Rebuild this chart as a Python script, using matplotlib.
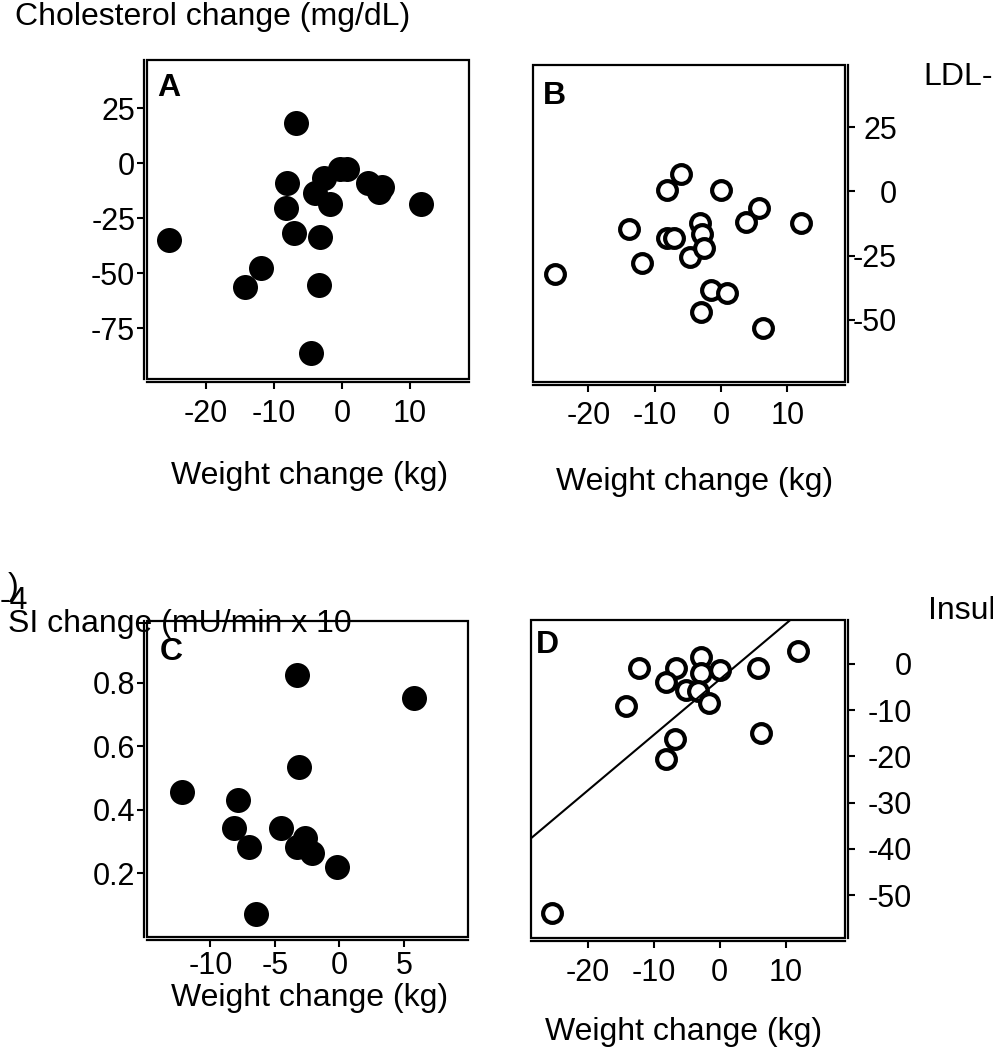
import numpy as np
import matplotlib
matplotlib.use("Agg")
import matplotlib.pyplot as plt
from matplotlib.patches import Rectangle
from matplotlib.transforms import offset_copy

plt.rcParams['font.family'] = ['Liberation Sans', 'DejaVu Sans']
plt.rcParams['axes.unicode_minus'] = False

# ---- data ----
# A: weight change vs cholesterol change
a_wt = [-25.4, -6.7, -8.0, -8.2, -7.1, -11.9, -14.2, -3.3, -4.6, -3.2,
        -1.8, -3.9, -2.6, -0.3, 0.7, 3.8, 5.9, 5.5, 11.6]
a_chol = [-34.9, 18.2, -8.8, -20.5, -31.8, -47.4, -56.1, -55.3, -86.4, -33.5,
          -18.5, -13.4, -6.8, -2.7, -2.7, -8.8, -10.6, -12.9, -18.5]

# B: weight change vs LDL change
b_wt = [-25.0, -13.8, -11.9, -8.1, -6.1, -8.1, -7.1, -4.6, -3.1, -2.8,
        -2.6, 0.0, -1.5, 0.9, -3.0, 5.8, 3.8, 12.0, 6.3]
b_ldl = [-32.3, -14.6, -28.0, 0.6, 6.8, -18.0, -18.0, -25.4, -12.2, -16.7,
         -21.9, 0.6, -38.4, -39.5, -46.9, -6.6, -12.0, -12.4, -53.4]

# C: weight change vs SI change
c_wt = [-3.3, 5.8, -3.1, -12.2, -7.9, -8.2, -7.0, -4.5, -2.7, -3.3, -2.1, -0.2, -6.5]
c_si = [0.825, 0.753, 0.534, 0.457, 0.431, 0.344, 0.282, 0.344, 0.310, 0.282,
        0.265, 0.221, 0.072]

# D: weight change vs insulin change
d_wt = [-25.4, -12.2, -14.3, -6.6, -8.2, -2.8, -2.8, 0.0, -5.1, -3.3,
        -1.6, -6.8, -8.1, 5.8, 11.9, 6.3]
d_ins = [-53.8, -0.8, -9.0, -0.8, -4.0, 1.6, -1.9, -1.3, -5.6, -5.8,
         -8.4, -16.2, -20.6, -0.8, 2.8, -15.0]
d_slope, d_icpt = 1.20, -3.34   # regression line in D

x_ticks_wide = [-20, -10, 0, 10]
x_ticks_c = [-10, -5, 0, 5]
b_yticks = [25, 0, -25, -50]
d_yticks = [0, -10, -20, -30, -40, -50]

W, H = 993, 1050
fig = plt.figure(figsize=(W / 100, H / 100), dpi=100)

TICK_FS = 22
LAB_FS = 23


def make_ax(l, t, r, b):
    return fig.add_axes([l / W, 1 - b / H, (r - l) / W, (b - t) / H])


def style(ax, side, letter, lx, ly, xpad=7):
    # frame box
    ax.add_patch(Rectangle((0, 0), 1, 1, transform=ax.transAxes, fill=False,
                           lw=1.6, ec='black', clip_on=False, zorder=5))
    for s in ['top', 'left', 'right', 'bottom']:
        ax.spines[s].set_visible(False)
    ax.spines['bottom'].set_visible(True)
    ax.spines['bottom'].set_position(('outward', 2.2))
    ax.spines['bottom'].set_linewidth(1.6)
    ax.spines[side].set_visible(True)
    ax.spines[side].set_position(('outward', 2.2))
    ax.spines[side].set_linewidth(1.6)
    ax.xaxis.set_ticks_position('bottom')
    ax.tick_params(direction='out', length=5, width=1.5, labelsize=TICK_FS)
    if side == 'left':
        ax.yaxis.set_ticks_position('left')
        ax.tick_params(axis='y', pad=1.5)
    else:
        ax.yaxis.set_ticks_position('right')
        ax.tick_params(axis='y', labelright=False)
    ax.tick_params(axis='x', pad=xpad)
    ax.text(lx, ly, letter, transform=ax.transAxes, fontsize=LAB_FS,
            fontweight='bold', ha='left', va='top', zorder=6)


def right_labels(ax, ticks, dx):
    # right-aligned tick labels on the right axis (SigmaPlot style)
    tr = offset_copy(ax.get_yaxis_transform(), fig=fig, x=dx, y=0, units='dots')
    for v in ticks:
        ax.text(1, v, f'{v:g}', transform=tr, ha='right', va='center_baseline',
                fontsize=TICK_FS, clip_on=False)


def label(x, y, s, ha='center', fs=LAB_FS):
    fig.text(x / W, 1 - y / H, s, fontsize=fs, ha=ha, va='center')


# ---- A ----
axA = make_ax(147.3, 60, 469, 379)
axA.plot(a_wt, a_chol, 'o', color='black', ms=18, mew=0)
axA.set_xlim(-28.6, 18.7)
axA.set_ylim(-98, 47)
axA.set_xticks(x_ticks_wide)
axA.set_yticks([25, 0, -25, -50, -75])
style(axA, 'left', 'A', 0.03, 0.96)

# ---- B ----
axB = make_ax(533.3, 65, 845, 381.7)
axB.plot(b_wt, b_ldl, 'o', mfc='white', mec='black', ms=13.5, mew=3.0)
axB.set_xlim(-28.3, 18.7)
axB.set_ylim(-74.2, 49.3)
axB.set_xticks(x_ticks_wide)
axB.set_yticks(b_yticks)
style(axB, 'right', 'B', 0.03, 0.95)
right_labels(axB, b_yticks, 52)

# ---- C ----
axC = make_ax(147.3, 621, 468.3, 936.8)
axC.plot(c_wt, c_si, 'o', color='black', ms=18, mew=0)
axC.set_xlim(-14.9, 10.0)
axC.set_ylim(0.0, 0.995)
axC.set_xticks(x_ticks_c)
axC.set_yticks([0.2, 0.4, 0.6, 0.8])
style(axC, 'left', 'C', 0.04, 0.95, xpad=3)

# ---- D ----
axD = make_ax(530.7, 620, 845, 938)
axD.plot(d_wt, d_ins, 'o', mfc='white', mec='black', ms=13.5, mew=3.0)
xl = np.array([-28.7, 19.0])
axD.plot(xl, d_icpt + d_slope * xl, color='black', lw=1.5)
axD.set_xlim(-28.7, 19.0)
axD.set_ylim(-59.3, 9.5)
axD.set_xticks(x_ticks_wide)
axD.set_yticks(d_yticks)
style(axD, 'right', 'D', 0.015, 0.97)
right_labels(axD, d_yticks, 67)

# ---- stray labels as in the original layout ----
label(15, 17, 'Cholesterol change (mg/dL)', ha='left')
label(923, 77, 'LDL-', ha='left')
label(928, 611, 'Insul', ha='left')
label(8, 624, 'SI change (mU/min x 10', ha='left')
label(0, 601, '-4', ha='left')
label(8, 587, ')', ha='left')

label(310, 476, 'Weight change (kg)')
label(695, 482, 'Weight change (kg)')
label(310, 998, 'Weight change (kg)')
label(684, 1032, 'Weight change (kg)')

fig.savefig('out.png', dpi=100)
